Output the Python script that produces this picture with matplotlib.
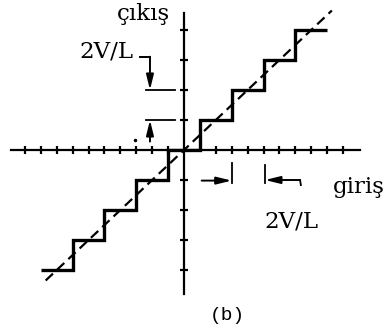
import matplotlib.pyplot as plt

# Quantizer staircase: step edges (in V/L units) and output levels (in steps)
step_edges = [-9, -7, -5, -3, -1, 1, 3, 5, 7, 9]
levels = [-4, -3, -2, -1, 0, 1, 2, 3, 4]

# Ideal transfer line (dashed)
ideal_x = [-8.7, 9.3]
ideal_y = [-4.35, 4.65]

# Axis tick positions
x_ticks = [-10, -9, -8, -7, -6, -5, -4, -3, -2, -1, 2, 3, 4, 5, 6, 7, 8, 9, 10]
y_ticks = [-4, -3, -2, -1, 1, 2, 3, 4]

# Labels
y_label = "çıkış"
x_label = "giriş"
step_label = "2V/L"
panel_label = "(b)"

SERIF = "DejaVu Serif"
MONO = "Liberation Mono"


def arrow(ax, start, tip):
    ax.annotate("", xy=tip, xytext=start,
                arrowprops=dict(arrowstyle="-|>,head_length=0.9,head_width=0.22",
                                color="black", lw=1.4, shrinkA=0, shrinkB=0),
                annotation_clip=False)


def draw():
    fig = plt.figure(figsize=(3.9, 3.34), dpi=100)
    ax = fig.add_axes([0, 0, 1, 1])
    ax.set_xlim(-184 / 15.9, (390 - 184) / 15.9)
    ax.set_ylim(-(334 - 150) / 30, 150 / 30)
    ax.axis("off")

    # axes with cross ticks
    ax.plot([-10.85, 11.1], [0, 0], color="black", lw=1.6)
    ax.plot([0, 0], [-4.8, 4.57], color="black", lw=1.6)
    ax.plot(x_ticks, [0] * len(x_ticks), "|", color="black", ms=6, mew=1.6)
    ax.plot([0] * len(y_ticks), y_ticks, "_", color="black", ms=6, mew=1.6)

    # staircase and ideal line
    ax.stairs(levels, step_edges, baseline=None, color="black", lw=2.4)
    ax.plot(ideal_x, ideal_y, color="black", lw=1.6, linestyle=(0, (4.5, 2.5)))

    # step height dimension
    ax.plot([-2.4, -0.57], [2, 2], color="black", lw=1.3)
    ax.plot([-2.4, -0.57], [1, 1], color="black", lw=1.3)
    ax.plot([-2.77, -2.14], [3.11, 3.11], color="black", lw=1.4)
    arrow(ax, (-2.14, 3.11), (-2.14, 2.0))
    arrow(ax, (-2.14, 0.28), (-2.14, 1.0))
    ax.text(-4.87, 3.1, step_label, family=SERIF, fontsize=16.5,
            ha="center", va="baseline")

    # step width dimension
    ax.plot([3.0, 3.0], [-0.44, -1.11], color="black", lw=1.3)
    ax.plot([5.09, 5.09], [-0.5, -1.11], color="black", lw=1.3)
    arrow(ax, (1.11, -1.02), (3.0, -1.02))
    arrow(ax, (7.3, -1.0), (5.09, -1.0))
    ax.plot([7.3, 7.35], [-1.0, -1.17], color="black", lw=1.3)
    ax.text(6.73, -2.57, step_label, family=SERIF, fontsize=16.5,
            ha="center", va="baseline")

    # axis names and panel label
    ax.text(-2.55, 4.33, y_label, family=SERIF, fontsize=16.5,
            ha="center", va="baseline")
    ax.text(11.0, -1.43, x_label, family=SERIF, fontsize=16.5,
            ha="center", va="baseline")
    ax.text(2.74, -5.52, panel_label, family=MONO, fontsize=14,
            ha="center", va="center")

    # print specks
    ax.plot([(135 - 184) / 15.9], [(150 - 140) / 30], "o", color="black", ms=1.5)

    fig.savefig("out.png", dpi=100)
    plt.close(fig)


if __name__ == "__main__":
    draw()
